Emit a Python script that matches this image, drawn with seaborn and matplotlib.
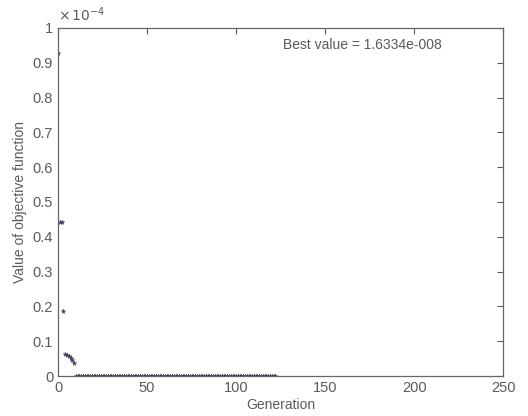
import pandas as pd
import numpy as np
import matplotlib.pyplot as plt
import seaborn as sns
from matplotlib.ticker import FuncFormatter

# dados
geracoes_inicio = [0, 1, 2, 3, 4, 5, 6, 7, 8, 9]
valores_inicio = [0.928e-4, 0.443e-4, 0.443e-4, 0.187e-4, 0.063e-4, 0.060e-4, 0.057e-4, 0.052e-4, 0.046e-4, 0.037e-4]
ultima_geracao = 122
melhor_valor = 1.6334e-8

geracoes = geracoes_inicio + list(range(10, ultima_geracao + 1))
valores = valores_inicio + [melhor_valor] * (ultima_geracao - 9)

df = pd.DataFrame({"geracao": geracoes, "valor": valores})

sns.set_style("white")
plt.rcParams['font.family'] = ['Liberation Sans', 'DejaVu Sans']
cinza = "#5a5a5a"

fig = plt.figure(figsize=(5.28, 4.16), dpi=100)
ax = fig.add_axes([0.110, 0.096, 0.843, 0.837])

sns.scatterplot(x="geracao", y="valor", data=df, ax=ax, marker="*", s=12,
                color="#3c3f5e", edgecolor="#3c3f5e", linewidth=0.3)

ax.set_xlim(0, 250)
ax.set_ylim(0, 1e-4)
ax.set_xticks([0, 50, 100, 150, 200, 250])
ax.set_yticks(np.arange(0, 11) * 1e-5)
ax.yaxis.set_major_formatter(FuncFormatter(lambda v, p: "%g" % round(v * 1e4, 1)))

ax.tick_params(direction="in", length=4, width=0.8, colors=cinza, labelsize=10.5,
               top=True, right=True, labelcolor=cinza)
for s in ax.spines.values():
    s.set_color("#666666")
    s.set_linewidth(0.9)

ax.set_xlabel("Generation", fontsize=10, color=cinza, labelpad=2)
ax.set_ylabel("Value of objective function", fontsize=10, color=cinza, labelpad=4)

ax.text(0.0, 1.01, r"$\times\,10^{-4}$", transform=ax.transAxes, fontsize=10,
        color=cinza, va="bottom", ha="left")
ax.text(0.505, 0.95, "Best value = 1.6334e-008", transform=ax.transAxes,
        fontsize=10, color=cinza, va="center", ha="left")

plt.savefig("out.png", dpi=100)
